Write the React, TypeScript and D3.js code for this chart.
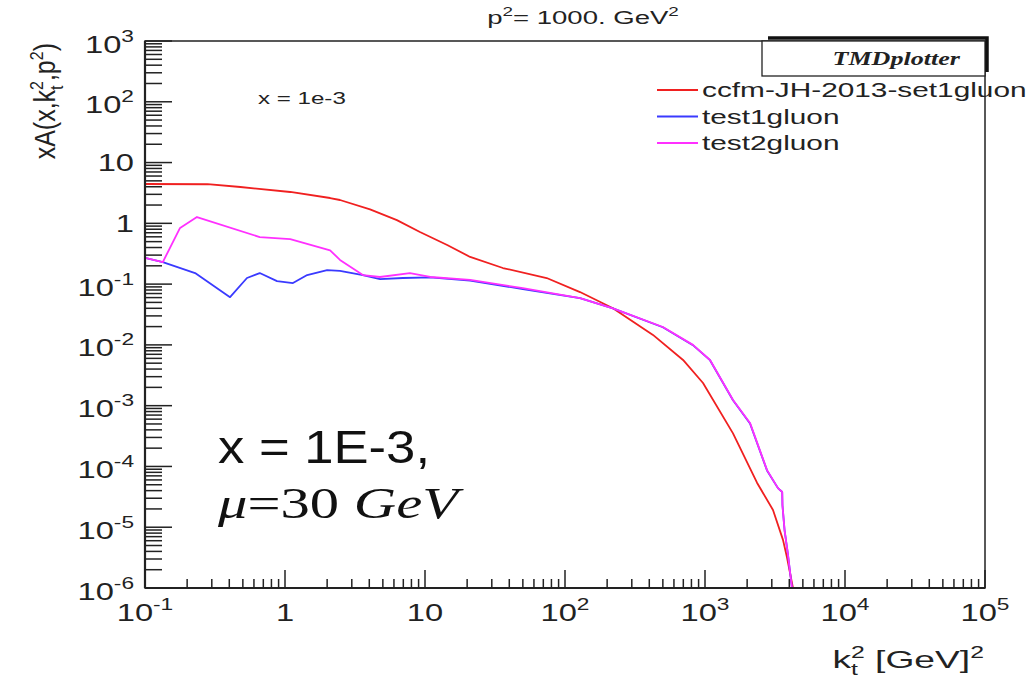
import React from "react";
import * as d3 from "d3";

// kt^2 [GeV^2] and xA values for each TMD set
const redK = [0.1, 0.28, 0.48, 1.09, 2.1, 2.47, 4.05, 6.3, 9.2, 14.4, 21, 36, 74, 128, 220, 425, 697, 968, 1585, 2352, 3060, 3606, 3850, 4250, 4600];
const redV = [4.44, 4.4, 3.96, 3.28, 2.61, 2.42, 1.7, 1.13, 0.72, 0.44, 0.28, 0.184, 0.126, 0.074, 0.04, 0.0146, 0.00565, 0.00236, 3.5e-4, 5.4e-5, 1.92e-5, 6.2e-6, 3.2e-6, 1.0e-6, 2e-7];

const blueK = [0.1, 0.134, 0.228, 0.405, 0.535, 0.66, 0.877, 1.14, 1.44, 2.0, 2.47, 3.6, 4.77, 6.96, 10.9, 21, 50, 128, 220, 500, 820, 1086, 1585, 2096, 2773, 3320, 3560, 3575, 3700, 3900, 4180, 4400];
const blueV = [0.27, 0.23, 0.152, 0.061, 0.126, 0.152, 0.112, 0.104, 0.141, 0.17, 0.165, 0.141, 0.121, 0.126, 0.129, 0.114, 0.083, 0.059, 0.04, 0.0195, 0.0099, 0.0056, 1.23e-3, 5.1e-4, 8.6e-5, 4.4e-5, 3.8e-5, 2.3e-5, 9e-6, 3.8e-6, 1e-6, 2e-7];

const magK = [0.1, 0.134, 0.178, 0.235, 0.66, 1.09, 2.1, 2.47, 3.6, 4.77, 7.8, 10.9, 21, 50, 128, 220, 500, 820, 1086, 1585, 2096, 2773, 3320, 3560, 3575, 3700, 3900, 4180, 4400];
const magV = [0.27, 0.23, 0.84, 1.27, 0.595, 0.55, 0.36, 0.25, 0.141, 0.131, 0.152, 0.131, 0.117, 0.086, 0.059, 0.04, 0.0197, 0.01, 0.00565, 1.24e-3, 5.2e-4, 8.7e-5, 4.4e-5, 3.8e-5, 2.3e-5, 9e-6, 3.8e-6, 1e-6, 2e-7];

const seriesNames = ["ccfm-JH-2013-set1gluon", "test1gluon", "test2gluon"];
const seriesColors = ["#f02020", "#3a3aff", "#ff30ff"];

const xTickLabels = [
  { v: 0.1, base: "10", exp: "-1" },
  { v: 1, base: "1", exp: "" },
  { v: 10, base: "10", exp: "" },
  { v: 100, base: "10", exp: "2" },
  { v: 1000, base: "10", exp: "3" },
  { v: 10000, base: "10", exp: "4" },
  { v: 100000, base: "10", exp: "5" },
];
const yTickLabels = [
  { v: 1e-6, base: "10", exp: "-6" },
  { v: 1e-5, base: "10", exp: "-5" },
  { v: 1e-4, base: "10", exp: "-4" },
  { v: 1e-3, base: "10", exp: "-3" },
  { v: 1e-2, base: "10", exp: "-2" },
  { v: 1e-1, base: "10", exp: "-1" },
  { v: 1, base: "1", exp: "" },
  { v: 10, base: "10", exp: "" },
  { v: 100, base: "10", exp: "2" },
  { v: 1000, base: "10", exp: "3" },
];

const W = 1031;
const H = 679;
const L = 145, R = 985, T = 41, B = 588;
const SX = 1.42;
const FONT = "'Liberation Sans', Arial, Helvetica, sans-serif";

export default function App() {
  const x = d3.scaleLog().domain([0.1, 1e5]).range([L, R]);
  const y = d3.scaleLog().domain([1e-6, 1e3]).range([B, T]);
  const line = d3
    .line<[number, number]>()
    .x((d) => x(d[0]))
    .y((d) => y(d[1]));

  const series = [
    d3.zip(redK, redV) as [number, number][],
    d3.zip(blueK, blueV) as [number, number][],
    d3.zip(magK, magV) as [number, number][],
  ];

  const isMajor = (v: number) => Math.abs(Math.log10(v) - Math.round(Math.log10(v))) < 1e-9;
  const xTicks = x.ticks();
  const yTicks = y.ticks();

  return (
    <svg width={W} height={H} style={{ display: "block", position: "absolute", left: 0, top: 0 }} fontFamily={FONT}>
      <rect x={0} y={0} width={W} height={H} fill="#fff" />
      <defs>
        <clipPath id="plotArea">
          <rect x={L} y={T} width={R - L} height={B - T} />
        </clipPath>
      </defs>

      {/* title */}
      <text transform={`translate(583,24) scale(1.45,1)`} textAnchor="middle" fontSize={19} fill="#222">
        p<tspan fontSize={13} dy={-8}>2</tspan>
        <tspan dy={8}>= 1000. GeV</tspan>
        <tspan fontSize={13} dy={-8}>2</tspan>
      </text>

      {/* curves */}
      <g clipPath="url(#plotArea)">
        {series.map((s, i) => (
          <path key={i} d={line(s) ?? ""} fill="none" stroke={seriesColors[i]} strokeWidth={1.8} strokeLinejoin="round" />
        ))}
      </g>

      {/* frame */}
      <rect x={L} y={T} width={R - L} height={B - T} fill="none" stroke="#222" strokeWidth={1.5} />
      <line x1={L} y1={T} x2={L} y2={B} stroke="#222" strokeWidth={2.2} />
      <line x1={L} y1={B} x2={R} y2={B} stroke="#222" strokeWidth={2.2} />

      {/* x ticks */}
      {xTicks.map((t, i) => (
        <line key={"xt" + i} x1={x(t)} x2={x(t)} y1={B} y2={B - (isMajor(t) ? 18 : 9)} stroke="#222" strokeWidth={1.5} />
      ))}
      {/* y ticks */}
      {yTicks.map((t, i) => (
        <line key={"yt" + i} x1={L} x2={L + (isMajor(t) ? 27 : 17)} y1={y(t)} y2={y(t)} stroke="#222" strokeWidth={1.5} />
      ))}

      {/* x tick labels */}
      {xTickLabels.map((d, i) => (
        <text key={"xl" + i} transform={`translate(${x(d.v)},621) scale(${SX},1)`} textAnchor="middle" fontSize={23} fill="#222">
          {d.base}
          {d.exp && (
            <tspan fontSize={16} dy={-11}>
              {d.exp}
            </tspan>
          )}
        </text>
      ))}

      {/* y tick labels */}
      {yTickLabels.map((d, i) => (
        <text
          key={"yl" + i}
          transform={`translate(134,${y(d.v) + (d.exp ? 11.5 : 8.5)}) scale(${SX},1)`}
          textAnchor="end"
          fontSize={23}
          fill="#222"
        >
          {d.base}
          {d.exp && (
            <tspan fontSize={16} dy={-11}>
              {d.exp}
            </tspan>
          )}
        </text>
      ))}

      {/* x axis title */}
      <text transform={`translate(984,668) scale(1.55,1)`} textAnchor="end" fontSize={24} fill="#222">
        k<tspan fontSize={16} dy={-10}>2</tspan>
        <tspan fontSize={16} dx={-8.9} dy={17}>t</tspan>
        <tspan dx={4.4} dy={-7}> [GeV]</tspan>
        <tspan fontSize={16} dy={-10}>2</tspan>
      </text>

      {/* y axis title */}
      <text transform={`translate(55,43) rotate(-90) scale(1,1.2)`} textAnchor="end" fontSize={25} fill="#222">
        xA(x,k<tspan fontSize={16} dy={-10}>2</tspan>
        <tspan fontSize={16} dx={-8.9} dy={17}>t</tspan>
        <tspan dx={4.4} dy={-7}>,p</tspan>
        <tspan fontSize={16} dy={-10}>2</tspan>
        <tspan dy={10}>)</tspan>
      </text>

      {/* x label inside plot */}
      <text transform={`translate(258,104) scale(${SX},1)`} fontSize={17} fill="#222">
        x = 1e-3
      </text>

      {/* TMDplotter box */}
      <rect x={762} y={41} width={223} height={35} fill="#fff" stroke="#222" strokeWidth={1.3} />
      <polyline points="768,38 987,38 987,72" fill="none" stroke="#111" strokeWidth={3.5} />
      <text
        transform={`translate(960,65) scale(1.45,1)`}
        textAnchor="end"
        fontSize={18}
        fontWeight="bold"
        fontStyle="italic"
        fontFamily="'Liberation Serif', 'Times New Roman', serif"
        fill="#222"
      >
        TMDplotter
      </text>

      {/* legend */}
      {seriesNames.map((n, i) => {
        const ly = 90 + i * 26.5;
        return (
          <g key={"lg" + i}>
            <line x1={657} x2={698} y1={ly} y2={ly} stroke={seriesColors[i]} strokeWidth={1.8} />
            <text transform={`translate(702,${ly + 7}) scale(${SX},1)`} fontSize={21} fill="#222">
              {n}
            </text>
          </g>
        );
      })}

      {/* annotation */}
      <text x={218} y={463} fontSize={46} fill="#111" textLength={212} lengthAdjust="spacingAndGlyphs">
        x = 1E-3,
      </text>
      <text
        x={218}
        y={518}
        fontSize={45}
        fill="#111"
        fontFamily="'Liberation Serif', 'Times New Roman', serif"
        textLength={240}
        lengthAdjust="spacingAndGlyphs"
      >
        <tspan fontStyle="italic">μ</tspan>=30 <tspan fontStyle="italic">GeV</tspan>
      </text>
    </svg>
  );
}
